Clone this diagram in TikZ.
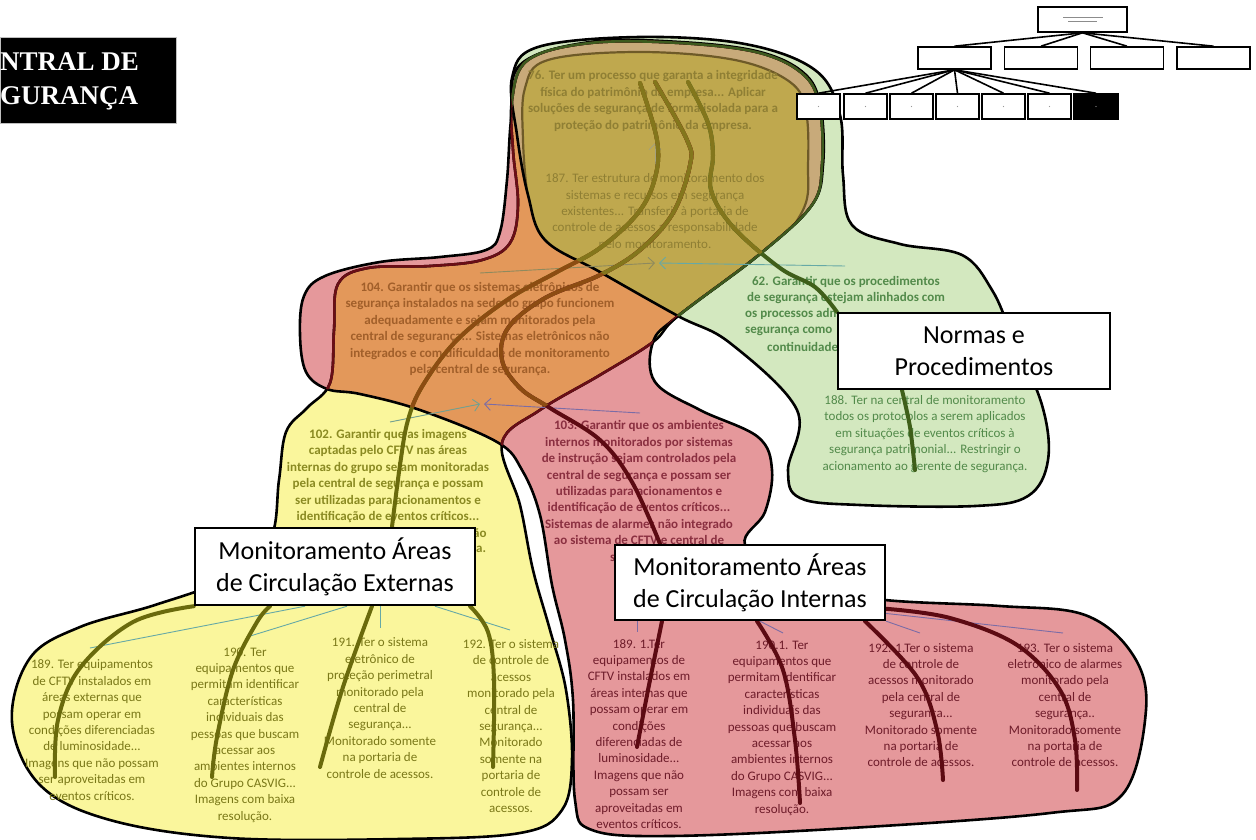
\documentclass[tikz,border=0pt]{standalone}
\usepackage{fontspec}
\setmainfont{Carlito}
\newfontfamily\hdrfont{Liberation Serif}
\usetikzlibrary{arrows.meta,calc}
\pgfdeclarelayer{fills}
\pgfdeclarelayer{texts}
\pgfdeclarelayer{front}
\pgfsetlayers{fills,texts,main,front}

\definecolor{yel}{HTML}{FAF69C}
\definecolor{redf}{HTML}{E5989B}
\definecolor{grn}{HTML}{D3E8BF}
\definecolor{org}{HTML}{E3985A}
\definecolor{oli}{HTML}{BFA84E}
\definecolor{tanb}{HTML}{C8AA7A}
\definecolor{brn}{HTML}{6E5A28}
\definecolor{mar}{HTML}{6A0E16}
\definecolor{dkg}{HTML}{3D5A1E}
\definecolor{txOl}{HTML}{8F7F34}
\definecolor{txOr}{HTML}{A15F2A}
\definecolor{txYe}{HTML}{8A8A22}
\definecolor{txRe}{HTML}{8A2F40}
\definecolor{txGr}{HTML}{528A4A}
\definecolor{txYb}{HTML}{7A7818}
\definecolor{txRb}{HTML}{6E1C2A}
\definecolor{cvT}{HTML}{83761C}
\definecolor{cvO}{HTML}{8C4C12}
\definecolor{cvY}{HTML}{6A6A0C}
\definecolor{cvR}{HTML}{5C0A12}
\definecolor{cvG}{HTML}{3F5F1A}
\definecolor{teal1}{HTML}{66A9A6}
\definecolor{purp1}{HTML}{7B6CA6}
\definecolor{olg}{HTML}{8E8A5E}

% blob outlines (pixel units, y downwards)
\def\Yshape{plot[smooth cycle, tension=0.6] coordinates {(12,722) (30,658) (80,627) (155,605) (228,578) (270,540) (279,480) (286,432) (307,408) (330,383) (334,330) (338,284) (368,268) (430,266) (482,260) (510,243) (518,205) (513,150) (512,100) (528,60) (590,43) (680,43) (760,53) (805,76) (820,110) (822,165) (812,205) (760,254) (678,316) (653,342) (600,375) (540,410) (502,443) (520,505) (533,570) (550,630) (566,690) (572,760) (562,810) (520,833) (400,839) (230,838) (110,820) (40,785)}}
\def\Rshape{plot[smooth cycle, tension=0.6] coordinates {(300,335) (304,296) (325,276) (380,262) (440,257) (486,250) (500,232) (507,180) (511,120) (520,65) (590,42) (680,42) (760,52) (806,75) (821,110) (823,165) (812,205) (760,254) (678,316) (653,342) (655,382) (700,410) (758,437) (772,470) (765,512) (745,545) (790,585) (885,600) (1000,606) (1085,615) (1133,655) (1146,710) (1122,795) (1050,813) (850,828) (670,836) (592,830) (575,800) (573,700) (565,640) (552,585) (540,515) (522,470) (497,442) (420,410) (360,394) (327,389) (306,372)}}
\def\Gshape{plot[smooth cycle, tension=0.6] coordinates {(517,135) (512,78) (538,47) (640,37) (745,44) (815,70) (840,115) (843,175) (852,225) (900,244) (962,255) (992,290) (1012,335) (1042,405) (1048,460) (1028,496) (975,506) (860,505) (800,498) (788,470) (797,410) (730,343) (678,316) (600,272) (545,240) (528,195)}}
\def\Tinner{plot[smooth cycle, tension=0.6] coordinates {(525,88) (548,60) (640,52) (735,60) (790,82) (806,112) (808,165) (803,210) (760,265) (690,330) (600,290) (538,255) (528,200) (523,140)}}

\begin{document}
\begin{tikzpicture}[x=1pt,y=-1pt,
  outl/.style={line width=2.6pt, line join=round},
  itm/.style={align=center, inner sep=0pt, font=\fontsize{13}{16.4}\selectfont},
  itmb/.style={align=center, inner sep=0pt, font=\fontsize{13}{16.4}\selectfont\bfseries},
  frag/.style={anchor=west, inner sep=0pt, font=\fontsize{13}{16.4}\selectfont\bfseries},
  cv/.style={line width=4pt, line cap=round},
  relline/.style={line width=0.9pt},
  reltip/.style={-{Straight Barb[length=6pt,width=12pt]}},
  bigbox/.style={draw=black, line width=2.4pt, fill=white, align=center, inner sep=0pt, font=\fontsize{26}{32}\selectfont},
  ocbox/.style={draw=black, line width=1.6pt, fill=white, inner sep=0pt}]
\useasboundingbox (0,0) rectangle (1256,840);

% ---------- coloured regions ----------
\begin{pgfonlayer}{fills}
  \fill[yel] \Yshape;
  \fill[redf] \Rshape;
  \fill[grn] \Gshape;
  \begin{scope}
    \clip \Yshape; \clip \Rshape;
    \fill[org] (0,0) rectangle (1256,840);
  \end{scope}
  \begin{scope}
    \clip \Yshape; \clip \Gshape;
    \fill[tanb] (0,0) rectangle (1256,840);
    \fill[oli] \Tinner;
    \draw[brn, line width=2.2pt] \Tinner;
  \end{scope}
  \draw[outl] \Gshape;
  \draw[outl] \Rshape;
  \draw[outl] \Yshape;
  \begin{scope}
    \clip \Rshape;
    \draw[outl, mar] \Yshape;
  \end{scope}
  \begin{scope}
    \clip \Gshape;
    \draw[outl, dkg] \Yshape;
  \end{scope}
\end{pgfonlayer}

% ---------- texts ----------
\begin{pgfonlayer}{texts}
  \node[itmb, text=txOl] (t76) at (653,101) {76. Ter um processo que garanta a integridade\\física do patrimônio da empresa... Aplicar\\soluções de segurança de forma isolada para a\\proteção do patrimônio da empresa.};
  \node[itm, text=txOl] (t187) at (655,212) {187. Ter estrutura de monitoramento dos\\sistemas e recursos em segurança\\existentes... Transferir à portaria de\\controle de acessos a responsabilidade\\pelo monitoramento.};
  \node[itmb, text=txOr] (t104) at (480,329) {104. Garantir que os sistemas eletrônicos de\\segurança instalados na sede do grupo funcionem\\adequadamente e sejam monitorados pela\\central de segurança... Sistemas eletrônicos não\\integrados e com dificuldade de monitoramento\\pela central de segurança.};
  \node[itmb, text=txYe] (t102) at (388,476) {102. Garantir que as imagens\\captadas pelo CFTV nas áreas\\internas do grupo sejam monitoradas\\pela central de segurança e possam\\ser utilizadas para acionamentos e\\identificação de eventos críticos...};
  \node[frag, text=txYe] (t102a) at (466,533) {não};
  \node[frag, text=txYe] (t102b) at (469,549) {na.};
  \node[itmb, text=txRe] (t103) at (639,492) {103. Garantir que os ambientes\\internos monitorados por sistemas\\de instrução sejam controlados pela\\central de segurança e possam ser\\utilizadas para acionamentos e\\identificação de eventos críticos...\\Sistemas de alarmes não integrado\\ao sistema de CFTV e central de\\s\phantom{egurança.}};
  \node[itmb, text=txGr] (t62) at (846,290) {62. Garantir que os procedimentos\\de segurança estejam alinhados com};
  \node[frag, text=txGr] (t62a) at (745,314) {os processos adm};
  \node[frag, text=txGr] (t62b) at (745,331) {segurança como};
  \node[frag, text=txGr] (t62c) at (767,347) {continuidade};
  \node[itm, text=txGr] (t188) at (925,434) {188. Ter na central de monitoramento\\todos os protocolos a serem aplicados\\em situações de eventos críticos à\\segurança patrimonial... Restringir o\\acionamento ao gerente de segurança.};

  \node[itm, text=txYb] (b189) at (92,730) {189. Ter equipamentos\\de CFTV instalados em\\áreas externas que\\possam operar em\\condições diferenciadas\\de luminosidade...\\Imagens que não possam\\ser aproveitadas em\\eventos críticos.};
  \node[itm, text=txYb] (b190) at (245,735) {190. Ter\\equipamentos que\\permitam identificar\\características\\individuais das\\pessoas que buscam\\acessar aos\\ambientes internos\\do Grupo CASVIG...\\Imagens com baixa\\resolução.};
  \node[itm, text=txYb] (b191) at (380,708) {191. Ter o sistema\\eletrônico de\\proteção perimetral\\monitorado pela\\central de\\segurança...\\Monitorado somente\\na portaria de\\controle de acessos.};
  \node[itm, text=txYb] (b192) at (511,726) {192. Ter o sistema\\de controle de\\acessos\\monitorado pela\\central de\\segurança...\\Monitorado\\somente na\\portaria de\\controle de\\acessos.};

  \node[itm, text=txRb] (r189) at (639,734) {189. 1.Ter\\equipamentos de\\CFTV instalados em\\áreas internas que\\possam operar em\\condições\\diferenciadas de\\luminosidade...\\Imagens que não\\possam ser\\aproveitadas em\\eventos críticos.};
  \node[itm, text=txRb] (r190) at (782,728) {190.1. Ter\\equipamentos que\\permitam identificar\\características\\individuais das\\pessoas que buscam\\acessar aos\\ambientes internos\\do Grupo CASVIG...\\Imagens com baixa\\resolução.};
  \node[itm, text=txRb] (r192) at (921,705) {192. 1.Ter o sistema\\de controle de\\acessos monitorado\\pela central de\\segurança...\\Monitorado somente\\na portaria de\\controle de acessos.};
  \node[itm, text=txRb] (r193) at (1065,705) {193. Ter o sistema\\eletrônico de alarmes\\monitorado pela\\central de\\segurança..\\Monitorado somente\\na portaria de\\controle de acessos.};
\end{pgfonlayer}

% ---------- category boxes, header and chart ----------
\begin{pgfonlayer}{front}
  \node[bigbox, minimum width=280pt, minimum height=77pt] (ext) at (335,566.5) {Monitoramento Áreas\\de Circulação Externas};
  \node[bigbox, minimum width=270pt, minimum height=75pt] (int) at (750,582.5) {Monitoramento Áreas\\de Circulação Internas};
  \node[bigbox, minimum width=272pt, minimum height=76pt] (nrm) at (974,351) {Normas e\\Procedimentos};

  \node[fill=black, draw=black!25, line width=0.8pt, minimum width=176pt, minimum height=86pt, anchor=north west, inner sep=0pt] (hdr) at (0,37) {};
  \node[anchor=west, align=left, inner sep=0pt, text=white, font=\hdrfont\bfseries\fontsize{27}{34}\selectfont] (hdrtx) at (0,81) {NTRAL DE\\GURANÇA};

  \node[ocbox, minimum width=89pt, minimum height=25pt] (oc0) at (1082.5,19.5) {};
  \draw[black!45, line width=0.7pt] (1063,17) -- (1103,17);
  \draw[black!45, line width=0.5pt] (1068,21) -- (1097,21);
  \foreach \i/\x in {1/954.5,2/1041,3/1127,4/1213.5}
    \node[ocbox, minimum width=73pt, minimum height=22pt] (oc\i) at (\x,58) {};
  \foreach \j/\x in {1/818.5,2/865.5,3/911.5,4/957.5,5/1003.5,6/1049.5}
    \node[ocbox, minimum width=43pt, minimum height=25pt] (od\j) at (\x,106.5) {};
  \node[ocbox, fill=black, minimum width=44pt, minimum height=25pt] (od7) at (1096,106.5) {};
  \foreach \j in {1,...,7} \fill[black!40] (od\j.center) circle (0.7pt);
  \foreach \i in {1,...,4} \draw[line width=1.6pt] (oc0.south) -- (oc\i.north);
  \foreach \j in {1,...,7} \draw[line width=1.6pt] (oc1.south) -- (od\j.north);
\end{pgfonlayer}

% ---------- connector end points ----------
\coordinate (p76a) at (640,83);
\coordinate (p76b) at (655,82);
\coordinate (p76c) at (688,82);
\coordinate (extA) at ([xshift=57pt]ext.north);
\coordinate (intB) at ([xshift=-90pt]int.north);
\coordinate (nrmD) at ([xshift=-72pt]nrm.south);
\coordinate (p188) at (915,470);
\coordinate (e1s) at (ext.south west);
\coordinate (e2s) at ([xshift=-65pt]ext.south);
\coordinate (e3s) at ([xshift=37pt]ext.south);
\coordinate (e4s) at ([xshift=135pt]ext.south);
\coordinate (i1s) at ([xshift=-88pt]int.south);
\coordinate (i2s) at ([xshift=7pt]int.south);
\coordinate (i3s) at ([xshift=115pt]int.south);
\coordinate (i4s) at ($(int.south east)!0.16!(int.north east)$);
\coordinate (q189y) at (55,777);
\coordinate (q190y) at (212,777);
\coordinate (q191y) at (320,767);
\coordinate (q192y) at (493,767);
\coordinate (q189r) at (637,747);
\coordinate (q190r) at (800,803);
\coordinate (q192r) at (943,780);
\coordinate (q193r) at (1077,790);

\def\curveA{plot[smooth, tension=0.6] coordinates {(p76a) (657,140) (655,178) (638,213) (600,248) (557,272) (507,300) (457,340) (423,385) (408,420) (400,465) (extA)}}
\def\curveB{plot[smooth, tension=0.6] coordinates {(p76b) (687,140) (690,165) (673,213) (640,250) (600,275) (545,298) (508,328) (502,360) (520,388) (550,408) (600,440) (632,482) (intB)}}
\def\curveC{plot[smooth, tension=0.6] coordinates {(p76c) (708,123) (713,155) (711,190) (733,227) (780,268) (815,287) (nrm.north west)}}

% ---------- relation lines ----------
\coordinate (h1) at (480,273); \coordinate (hm1) at (655,263);
\coordinate (h2) at (845,266); \coordinate (hm2) at (659,263);
\coordinate (k1) at (390,422); \coordinate (km1) at (480,404);
\coordinate (k2) at (640,413); \coordinate (km2) at (484,404);
\coordinate (u1) at (655,172); \coordinate (u2) at (655,143);
\draw[relline, olg, reltip] (h1) -- (hm1);
\draw[relline, teal1, reltip] (h2) -- (hm2);
\draw[relline, teal1!70!olg, reltip] (k1) -- (km1);
\draw[relline, purp1, reltip] (k2) -- (km2);
\draw[relline, olg!80, reltip] (u1) -- (u2);

\draw[relline, teal1] ([xshift=-30pt]ext.south) -- (90,648);
\draw[relline, teal1] ([xshift=12pt]ext.south) -- (247,637);
\draw[relline, teal1] ([xshift=45pt]ext.south) -- (380,628);
\draw[relline, teal1] ([xshift=100pt]ext.south) -- (510,630);
\draw[relline, purp1] ([xshift=-113pt]int.south) -- (637,632);
\draw[relline, purp1] ([xshift=10pt]int.south) -- (783,633);
\draw[relline, purp1] (int.south east) -- (920,633);
\draw[relline, purp1] ($(int.south east)!0.1!(int.north east)$) -- (1063,633);

% ---------- thick connectors ----------
\draw[cv, cvY] \curveA;
\begin{scope} \clip \Yshape; \clip \Rshape; \draw[cv, cvO] \curveA; \end{scope}
\begin{scope} \clip \Yshape; \clip \Gshape; \draw[cv, cvT] \curveA; \end{scope}

\draw[cv, cvR] \curveB;
\begin{scope} \clip \Yshape; \clip \Rshape; \draw[cv, cvO] \curveB; \end{scope}
\begin{scope} \clip \Yshape; \clip \Gshape; \draw[cv, cvT] \curveB; \end{scope}

\draw[cv, cvG] \curveC;
\begin{scope} \clip \Yshape; \clip \Gshape; \draw[cv, cvT] \curveC; \end{scope}

\draw[cv, cvG] plot[smooth] coordinates {(nrmD) (910,427) (p188)};

\draw[cv, cvY] plot[smooth, tension=0.6] coordinates {(e1s) (133,622) (80,668) (58,720) (q189y)};
\draw[cv, cvY] plot[smooth, tension=0.6] coordinates {(e2s) (257,622) (233,670) (217,737) (q190y)};
\draw[cv, cvY] plot[smooth, tension=0.6] coordinates {(e3s) (343,687) (q191y)};
\draw[cv, cvY] plot[smooth, tension=0.6] coordinates {(e4s) (488,632) (494,680) (q192y)};

\draw[cv, cvR] plot[smooth, tension=0.6] coordinates {(i1s) (650,680) (q189r)};
\draw[cv, cvR] plot[smooth, tension=0.6] coordinates {(i2s) (783,670) (795,740) (q190r)};
\draw[cv, cvR] plot[smooth, tension=0.6] coordinates {(i3s) (917,677) (937,730) (q192r)};
\draw[cv, cvR] plot[smooth, tension=0.6] coordinates {(i4s) (950,618) (1017,645) (1060,690) (1075,740) (q193r)};
\end{tikzpicture}
\end{document}
